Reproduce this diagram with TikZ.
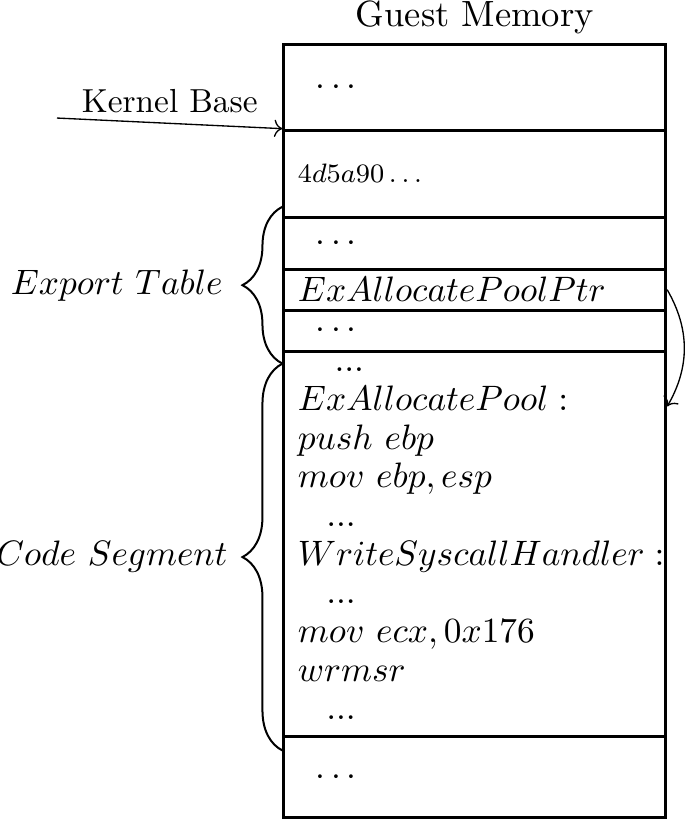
\RequirePackage{fix-cm}
\documentclass[tikz,border=0pt,11pt]{standalone}
\usepackage{tikz}
\usetikzlibrary{arrows.meta}
\usetikzlibrary{positioning,decorations.pathreplacing}

\begin{document}
\begin{tikzpicture}[font=\fontsize{10.6}{13}\selectfont]
	\useasboundingbox (0,0) rectangle (7.22,8.70);
	\begin{scope}[every node/.style={rectangle,draw,line width=0.9pt,text width=3.73cm,
			inner xsep=4.2pt,inner ysep=0pt,align=left}]
		\node[minimum height=0.906cm] (top) at (5.007,7.780) {\enspace$\cdots$};
		\node[minimum height=0.918cm] (mz) at (5.007,6.868) {\scriptsize$4d5a90\ldots$};
		\node[minimum height=0.548cm] (et1) at (5.007,6.135) {\enspace$\cdots$};
		\node[minimum height=0.432cm] (ptr) at (5.007,5.645) {$ExAllocatePoolPtr$};
		\node[minimum height=0.432cm] (et2) at (5.007,5.213) {\enspace$\cdots$};
		\node[minimum height=4.069cm,font=\fontsize{10.6}{11.6}\selectfont] (code) at (5.007,2.963)
			{\hspace*{11pt}$...$\\
			$ExAllocatePool:$\\
			$push\ ebp$\\
			$mov\ ebp, esp$\\
			\hspace*{8.5pt}$...$\\
			$WriteSyscallHandler:$\\
			\hspace*{8.5pt}$...$\\
			$mov\ ecx, 0x176$\\
			$wrmsr$\\
			\hspace*{8.5pt}$...$};
		\node[minimum height=0.854cm] (bot) at (5.007,0.501) {\enspace$\cdots$};
	\end{scope}

	\node[font=\normalsize,anchor=base] (title) at ([yshift=0.17cm]top.north) {Guest Memory};
	\node[font=\small,anchor=base] (kb) at (1.79,7.516) {Kernel Base};
	\coordinate (kbstart) at (0.601,7.455);
	\coordinate (entry) at ([yshift=-0.6cm]code.north east);

	\begin{scope}[every edge/.style={draw,thin}]
		\path[->] (kbstart) edge (mz.north west);
		\path (ptr.east) edge[->,out=-60,in=60] (entry);
	\end{scope}

	\draw[semithick,decorate,decoration={brace,amplitude=12pt}]
		([yshift=-0.116cm]et2.south west) -- ([yshift=0.095cm]et1.north west)
		node[midway,left=14pt] (etlabel) {$Export\ Table$};
	\draw[semithick,decorate,decoration={brace,amplitude=12pt}]
		([yshift=-0.127cm]code.south west) -- ([yshift=-0.116cm]et2.south west)
		node[midway,left=12.5pt] (cslabel) {$Code\ Segment$};
\end{tikzpicture}
\end{document}
